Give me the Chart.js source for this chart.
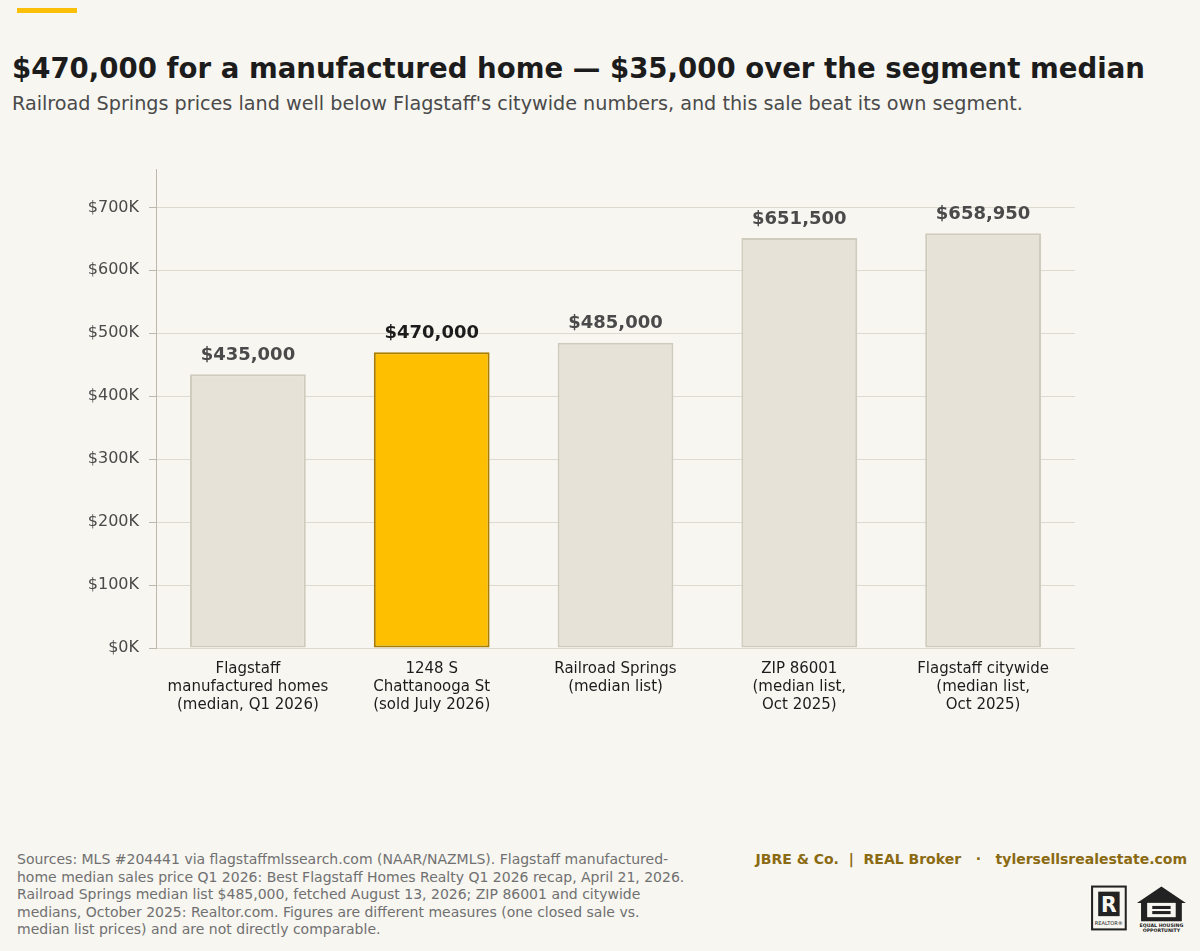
<!DOCTYPE html>
<html><head><meta charset="utf-8">
<script src="https://cdn.jsdelivr.net/npm/chart.js@4"></script>
<style>
body{margin:0;width:1200px;height:951px;background:#f7f6f1;font-family:"DejaVu Sans",sans-serif;position:relative;overflow:hidden}
.bar{position:absolute;left:17px;top:8px;width:60px;height:5px;background:#fbbf0a}
h1{position:absolute;left:12px;top:52px;margin:0;font-size:27.6px;font-weight:bold;color:#1c1c1c;white-space:nowrap}
.sub{position:absolute;left:12px;top:92px;font-size:19.2px;color:#4a4a4a;white-space:nowrap}
#wrap{position:absolute;left:0;top:150px;width:1100px;height:570px}
.src{position:absolute;left:17px;top:851px;width:672px;font-size:14px;line-height:17.5px;color:#707070}
.brand{position:absolute;right:13px;top:851px;font-size:14px;font-weight:bold;color:#8a6a12;white-space:pre}
.logos{position:absolute;left:1088px;top:884px}
</style></head><body>
<div class="bar"></div>
<h1>$470,000 for a manufactured home — $35,000 over the segment median</h1>
<div class="sub">Railroad Springs prices land well below Flagstaff's citywide numbers, and this sale beat its own segment.</div>
<div id="wrap"><canvas id="c"></canvas></div>
<div class="src">Sources: MLS #204441 via flagstaffmlssearch.com (NAAR/NAZMLS). Flagstaff manufactured-home median sales price Q1 2026: Best Flagstaff Homes Realty Q1 2026 recap, April 21, 2026. Railroad Springs median list $485,000, fetched August 13, 2026; ZIP 86001 and citywide medians, October 2025: Realtor.com. Figures are different measures (one closed sale vs. median list prices) and are not directly comparable.</div>
<div class="brand">JBRE &amp; Co.  |  REAL Broker   ·   tylersellsrealestate.com</div>
<div class="logos"><svg width="102" height="50" viewBox="0 0 100 48">
<rect x="4" y="2" width="33" height="42" fill="none" stroke="#222" stroke-width="2"/>
<rect x="10" y="7" width="21" height="24" fill="#222"/>
<text x="20.5" y="27" font-size="20" font-weight="bold" fill="#f7f6f1" text-anchor="middle" font-family="DejaVu Sans">R</text>
<text x="20.5" y="40" font-size="5" fill="#222" text-anchor="middle" font-family="DejaVu Sans">REALTOR®</text>
<path d="M48 18 L72 2 L96 18 L92 18 L92 36 L52 36 L52 18 Z" fill="#222"/>
<rect x="58" y="18" width="28" height="14" fill="#f7f6f1"/>
<rect x="63" y="21" width="18" height="3" fill="#222"/><rect x="63" y="26" width="18" height="3" fill="#222"/>
<text x="72" y="42" font-size="4.6" font-weight="bold" fill="#222" text-anchor="middle" font-family="DejaVu Sans">EQUAL HOUSING</text>
<text x="72" y="47" font-size="4.6" font-weight="bold" fill="#222" text-anchor="middle" font-family="DejaVu Sans">OPPORTUNITY</text>
</svg></div>
<script>
const categories=[["Flagstaff","manufactured homes","(median, Q1 2026)"],["1248 S","Chattanooga St","(sold July 2026)"],["Railroad Springs","(median list)"],["ZIP 86001","(median list,","Oct 2025)"],["Flagstaff citywide","(median list,","Oct 2025)"]];
const values=[435000,470000,485000,651500,658950];
const valueLabels=["$435,000","$470,000","$485,000","$651,500","$658,950"];
const yTicks=[0,100000,200000,300000,400000,500000,600000,700000];
const yTickLabels=["$0K","$100K","$200K","$300K","$400K","$500K","$600K","$700K"];
const highlight=1;
const labelPlugin={id:"lbl",afterDatasetsDraw(ch){const c=ch.ctx;const m=ch.getDatasetMeta(0);
 m.data.forEach((b,i)=>{c.save();c.font="bold 18px 'DejaVu Sans'";c.fillStyle=i===highlight?"#1c1c1c":"#4a4a4a";c.textAlign="center";c.textBaseline="bottom";c.fillText(valueLabels[i],b.x,b.y-10);c.restore();});}};
new Chart(document.getElementById("c"),{type:"bar",
 data:{labels:categories,datasets:[{data:values,
  backgroundColor:values.map((v,i)=>i===highlight?"#fdbf00":"#e6e2d8"),
  borderColor:values.map((v,i)=>i===highlight?"#a87d00":"#cfcbbd"),borderWidth:2,borderSkipped:false,
  barPercentage:0.63,categoryPercentage:1}]},
 options:{responsive:true,maintainAspectRatio:false,animation:false,
  layout:{padding:{top:17,right:25,left:0,bottom:0}},
  plugins:{legend:{display:false},tooltip:{enabled:false}},
  scales:{
   x:{grid:{display:false},border:{display:false},ticks:{color:"#1c1c1c",font:{family:"DejaVu Sans",size:15},maxRotation:0,autoSkip:false,padding:4},
      afterFit(s){s.height=72;}},
   y:{min:0,max:760000,grid:{color:"#dedad0",tickLength:7,tickColor:"#bdb9ae"},border:{display:true,color:"#bdb9ae"},
      afterBuildTicks(s){s.ticks=yTicks.map(v=>({value:v}));},
      ticks:{autoSkip:false,color:"#4a4a4a",font:{family:"DejaVu Sans",size:16},padding:10,
        callback:(v)=>{const i=yTicks.indexOf(v);return i>=0?yTickLabels[i]:"";}},
      afterFit(s){s.width=156;}}}},
 plugins:[labelPlugin]});
</script></body></html>
